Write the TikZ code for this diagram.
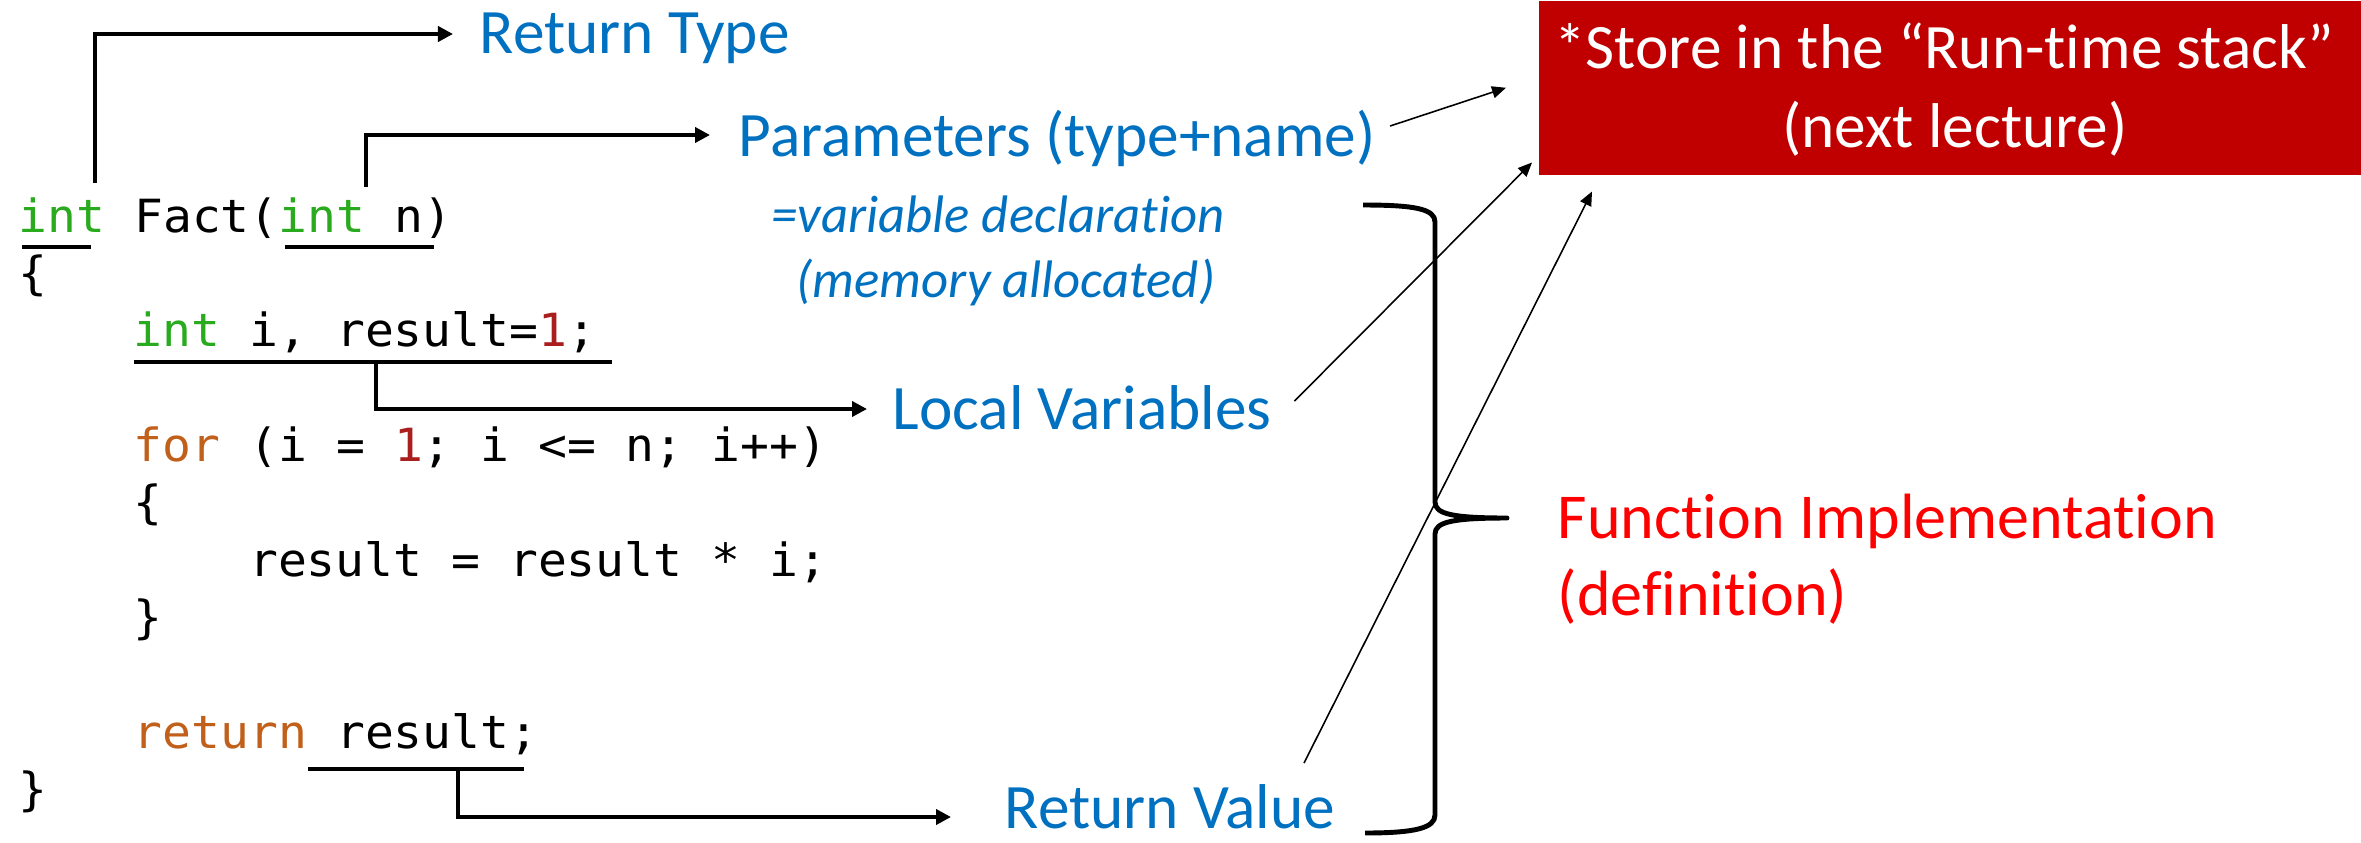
\documentclass[tikz,border=0pt]{standalone}
\usepackage{fontspec}
\usetikzlibrary{arrows.meta,calc}
\newfontfamily\lblfont[Ligatures=NoCommon]{Carlito}
\newfontfamily\codefont[FakeStretch=1.05]{DejaVu Sans Mono}
\definecolor{lblblue}{HTML}{0070C0}
\definecolor{implred}{HTML}{FF0000}
\definecolor{boxred}{HTML}{C00000}
\definecolor{kwgreen}{HTML}{2AAA1E}
\definecolor{kworange}{HTML}{C0601A}
\definecolor{numred}{HTML}{AA1E1E}
\newcommand{\kwint}[1]{\textcolor{kwgreen}{#1}}
\newcommand{\kwflow}[1]{\textcolor{kworange}{#1}}
\newcommand{\numlit}[1]{\textcolor{numred}{#1}}
\begin{document}
\begin{tikzpicture}[x=0.01cm,y=-0.01cm,
  codeline/.style={anchor=base west,inner sep=0pt,font=\codefont\fontsize{13pt}{15pt}\selectfont},
  bluelbl/.style={anchor=base west,inner sep=0pt,text=lblblue,font=\lblfont\fontsize{18pt}{22pt}\selectfont},
  noteit/.style={anchor=base,inner sep=0pt,text=lblblue,font=\lblfont\itshape\fontsize{15pt}{18pt}\selectfont},
  redlbl/.style={anchor=base west,inner sep=0pt,text=implred,font=\lblfont\fontsize{18.2pt}{22pt}\selectfont},
  boxtext/.style={anchor=base,inner sep=0pt,text=white,font=\lblfont\fontsize{18pt}{22pt}\selectfont},
  bigarrow/.style={line width=1.15pt,-{Triangle[length=0.15cm,width=0.15cm]}},
  uline/.style={line width=1.4pt},
  thinarrow/.style={line width=0.45pt,-{Triangle[length=0.14cm,width=0.12cm]}},
  bracepath/.style={line width=1.4pt,line join=round}]
\useasboundingbox (0,0) rectangle (2361,842);

% code listing
\node[codeline] (c1) at (18,232)    {\kwint{int} Fact(\kwint{int} n)};
\node[codeline] (c2) at (18,289)    {\{};
\node[codeline] (c3) at (133.2,346) {\kwint{int} i, result=\numlit{1};};
\node[codeline] (c4) at (133.2,461) {\kwflow{for} (i = \numlit{1}; i <= n; i++)};
\node[codeline] (c5) at (133.2,518) {\{};
\node[codeline] (c6) at (248.4,576) {result = result * i;};
\node[codeline] (c7) at (133.2,633) {\}};
\node[codeline] (c8) at (133.2,748) {\kwflow{return} result;};
\node[codeline] (c9) at (18,805)    {\}};

% labels
\node[bluelbl] (rtype)  at (479,53)   {Return Type};
\node[bluelbl] (params) at (738,156)  {Parameters (type+name)};
\node[noteit]  (decl1)  at (998,232)  {=variable declaration};
\node[noteit]  (decl2)  at (1006,297) {(memory allocated)};
\node[bluelbl] (locals) at (892,429)  {Local Variables};
\node[bluelbl] (retval) at (1004,828) {Return Value};
\node[redlbl]  (impl1)  at (1557,538) {Function Implementation};
\node[redlbl]  (impl2)  at (1557,615) {(definition)};

% run-time stack box
\node[fill=boxred,minimum width=8.23cm,minimum height=1.74cm,inner sep=0pt,anchor=north west] (store) at (1538,0) {};
\node[boxtext] (store1) at (1944,68)  {*Store in the “Run-time stack”};
\node[boxtext] (store2) at (1955,147) {(next lecture)};

% underline marks
\coordinate (u1a) at (22,247);  \coordinate (u1b) at (91,247);
\coordinate (u2a) at (285,247); \coordinate (u2b) at (434,247);
\coordinate (u3a) at (134,362); \coordinate (u3b) at (612,362);
\coordinate (u4a) at (308,769); \coordinate (u4b) at (524,769);
\draw[uline] (u1a) -- (u1b);
\draw[uline] (u2a) -- (u2b);
\draw[uline] (u3a) -- (u3b);
\draw[uline] (u4a) -- (u4b);

% elbow connectors
\coordinate (rt0) at (95,183);
\coordinate (pa0) at (366,187);
\coordinate (lv0) at (376,362);
\coordinate (rv0) at (458,769);
\draw[bigarrow] (rt0) |- ($(rtype.base west)+(-26,-19)$);
\draw[bigarrow] (pa0) |- ($(params.base west)+(-28,-21)$);
\draw[bigarrow] (lv0) |- ($(locals.base west)+(-25,-20)$);
\draw[bigarrow] (rv0) |- ($(retval.base west)+(-53,-11)$);

% pointers to the stack box
\draw[thinarrow] ($(params.base east)+(14,-30)$) -- ($(store.west)+(-32,0)$);
\draw[thinarrow] ($(locals.base east)+(22,-28)$) -- ($(store.south west)+(-6,-13)$);
\draw[thinarrow] ($(retval.base west)+(300,-65)$) -- ($(store.south west)+(54,16)$);

% curly brace round the body
\draw[bracepath] (1363,205) .. controls (1415,205) and (1435,209) .. (1435,222)
  -- (1435,502) .. controls (1435,514) and (1452,518) .. (1507,518)
  .. controls (1452,518) and (1435,522) .. (1435,534)
  -- (1435,815) .. controls (1435,828) and (1415,833) .. (1365,833);
\end{tikzpicture}
\end{document}
